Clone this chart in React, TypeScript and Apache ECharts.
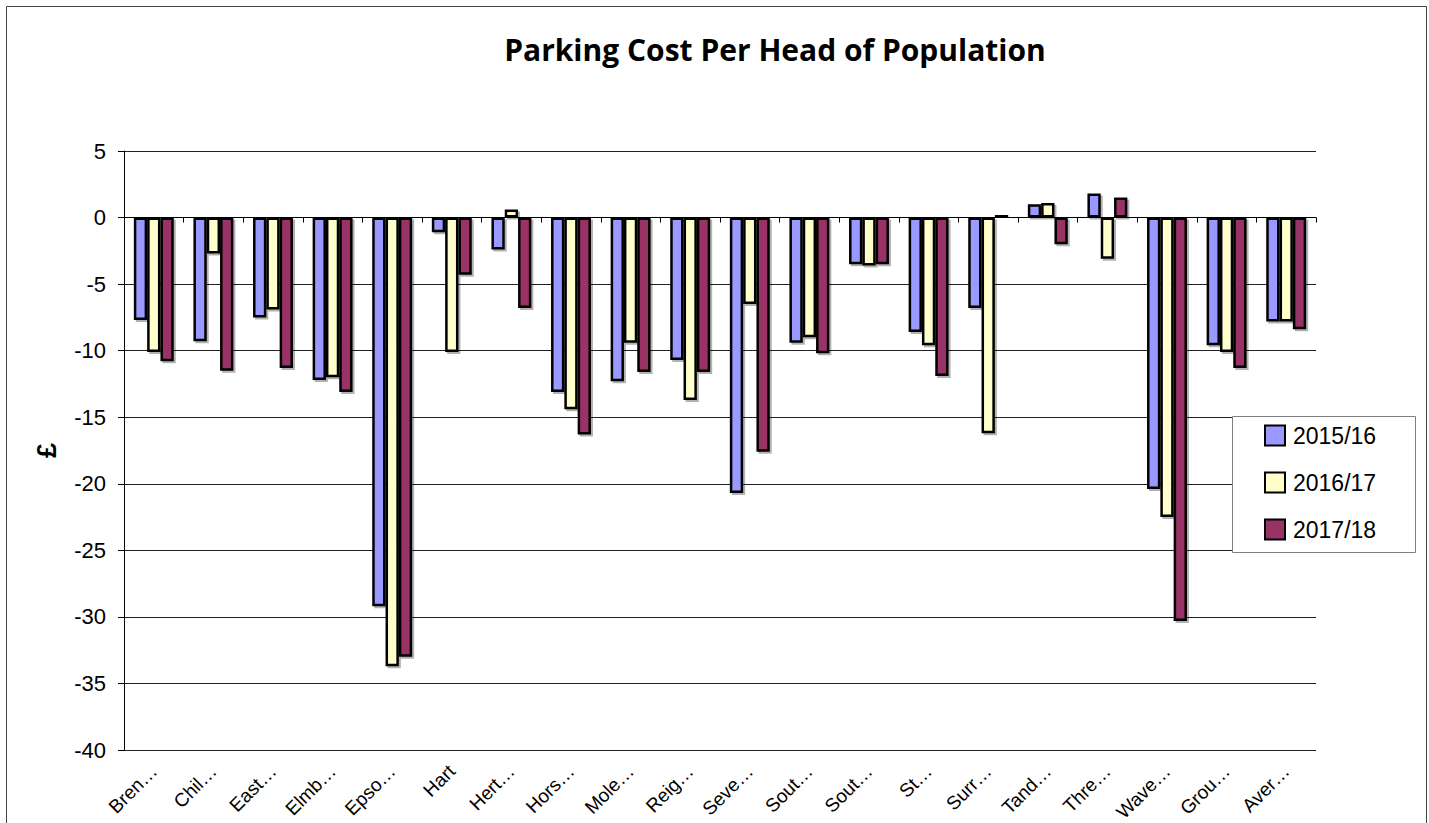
import React, { useEffect, useRef } from "react";
import * as echarts from "echarts";

const categories = ["Bren…", "Chil…", "East…", "Elmb…", "Epso…", "Hart", "Hert…", "Hors…", "Mole…", "Reig…", "Seve…", "Sout…", "Sout…", "St…", "Surr…", "Tand…", "Thre…", "Wave…", "Grou…", "Aver…"];
const seriesNames = ["2015/16", "2016/17", "2017/18"];
const values2015 = [-7.7, -9.3, -7.5, -12.2, -29.2, -1.1, -2.4, -13.1, -12.3, -10.7, -20.7, -9.4, -3.5, -8.6, -6.8, 1.0, 1.8, -20.4, -9.6, -7.8];
const values2016 = [-10.1, -2.7, -6.9, -12.0, -33.7, -10.1, 0.6, -14.4, -9.4, -13.7, -6.5, -9.0, -3.6, -9.6, -16.2, 1.1, -3.1, -22.5, -10.1, -7.8];
const values2017 = [-10.8, -11.5, -11.3, -13.1, -33.0, -4.3, -6.8, -16.3, -11.6, -11.6, -17.6, -10.2, -3.5, -11.9, 0.2, -2.0, 1.5, -30.3, -11.3, -8.4];
const colors = ["#9999FF", "#FFFFCC", "#993366"];
const titleText = "Parking Cost Per Head of Population";
const yName = "£";

export default function App() {
  const ref = useRef<HTMLDivElement>(null);
  useEffect(() => {
    if (!ref.current) return;
    const chart = echarts.init(ref.current, null, { renderer: "svg" });
    const allValues = [values2015, values2016, values2017];
    const font = "Liberation Sans, Arial, sans-serif";
    chart.setOption({
      animation: false,
      backgroundColor: "#ffffff",
      title: {
        text: titleText,
        left: 770,
        top: 29,
        textAlign: "center",
        textStyle: { fontFamily: "Open Sans", fontWeight: "bold", fontSize: 30, color: "#000" },
      },
      graphic: [
        {
          type: "rect",
          shape: { x: 6.5, y: 6.5, width: 1420, height: 830 },
          style: { fill: "none", stroke: "#444", lineWidth: 1 },
          silent: true,
          z: 0,
        },
        {
          type: "rect",
          shape: { x: 1232.5, y: 416.5, width: 183, height: 136 },
          style: { fill: "#ffffff", stroke: "#808080", lineWidth: 1 },
          silent: true,
          z: 50,
        },
      ],
      legend: {
        data: seriesNames,
        orient: "vertical",
        left: 1264,
        top: 424,
        padding: 0,
        itemWidth: 20,
        itemHeight: 20,
        itemGap: 24,
        icon: "rect",
        z: 60,
        itemStyle: { borderColor: "#000", borderWidth: 2 },
        textStyle: { fontFamily: font, fontSize: 23, color: "#000", padding: [0, 0, 0, 3] },
      },
      grid: {
        left: 124,
        top: 151,
        right: 113,
        bottom: 73,
        containLabel: false,
        outerBoundsMode: "none",
      },
      xAxis: [
        {
          type: "category",
          data: categories,
          position: "bottom",
          axisLine: { show: false, onZero: false },
          axisTick: { show: false },
          axisLabel: {
            rotate: 45,
            margin: 18,
            interval: 0,
            fontFamily: font,
            fontSize: 19,
            color: "#000",
          },
        },
        {
          type: "category",
          data: categories,
          position: "bottom",
          axisLine: { show: true, onZero: true, lineStyle: { color: "#000", width: 1 } },
          axisTick: { show: true, length: 5, inside: false, lineStyle: { color: "#000" } },
          axisLabel: { show: false },
        },
      ],
      yAxis: {
        type: "value",
        min: -40,
        max: 5,
        interval: 5,
        name: yName,
        nameLocation: "middle",
        nameGap: 64,
        nameTextStyle: { fontFamily: font, fontWeight: "bold", fontSize: 27, color: "#000" },
        axisLine: { show: true, lineStyle: { color: "#000", width: 1 } },
        axisTick: { show: true, length: 6, lineStyle: { color: "#000" } },
        axisLabel: { fontFamily: font, fontSize: 22, color: "#000", margin: 18 },
        splitLine: { show: true, lineStyle: { color: "#222", width: 1 } },
      },
      series: seriesNames.map((name, i) => ({
        name,
        type: "bar",
        xAxisIndex: 0,
        data: allValues[i],
        barGap: "0%",
        barCategoryGap: "33%",
        itemStyle: {
          color: colors[i],
          borderColor: "#000",
          borderWidth: 2.5,
          shadowColor: "rgba(0,0,0,0.3)",
          shadowOffsetX: 2,
          shadowOffsetY: 2,
          shadowBlur: 0,
        },
      })),
    });
    return () => chart.dispose();
  }, []);
  return (
    <div
      ref={ref}
      style={{ position: "absolute", left: 0, top: 0, width: 1429, height: 823 }}
    />
  );
}
